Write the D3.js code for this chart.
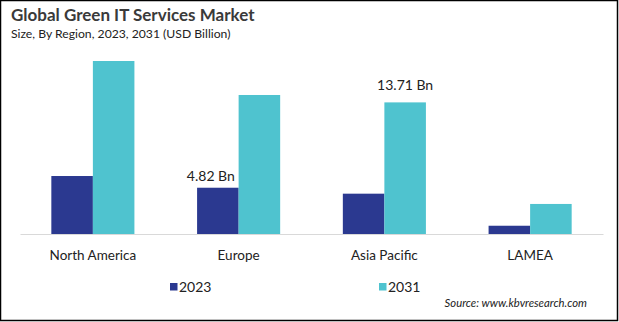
<!DOCTYPE html>
<meta charset="utf-8">
<title>Global Green IT Services Market</title>
<style type="text/css">
	body { margin: 0; background: #fff; }
	svg { display: block; font-family: Lato, "Noto Sans", sans-serif; }
</style>
<body>
<div id="chart"></div>
<script src="https://d3js.org/d3.v7.min.js"></script>
<script>

// chart data
var regions = ["North America", "Europe", "Asia Pacific", "LAMEA"];
var years = ["2023", "2031"];
var values2023 = [6.04, 4.82, 4.20, 0.86];
var values2031 = [18.02, 14.48, 13.71, 3.13];
// which bars carry a value label: [region index, year]
var labelled = [[1, "2023"], [2, "2031"]];

var width = 619, height = 322;
var colors = {"2023": "#2b3990", "2031": "#4fc3cf"};

var svg = d3.select("#chart").append("svg")
	.attr("width", width)
	.attr("height", height);

// outer frame
svg.append("rect")
	.attr("x", 0.5).attr("y", 0.5)
	.attr("width", width - 2).attr("height", height - 2)
	.style("fill", "none").style("stroke", "#000").style("stroke-width", 1.5);

// title and subtitle
svg.append("text").attr("x", 11).attr("y", 21)
	.text("Global Green IT Services Market")
	.style("font-size", "17px").style("font-weight", "bold").style("fill", "#3a3a3a");
svg.append("text").attr("x", 11).attr("y", 38)
	.text("Size, By Region, 2023, 2031 (USD Billion)")
	.style("font-size", "12.2px").style("fill", "#222");

var table = regions.map(function (r, i) {
	return {region: r, "2023": values2023[i], "2031": values2031[i]};
});

var x0 = d3.scaleBand().domain(regions).range([20, 603]).paddingInner(0).paddingOuter(0);
var barPad = 0.43;
var x1 = d3.scaleBand().domain(years)
	.range([x0.bandwidth() * barPad / 2, x0.bandwidth() * (1 - barPad / 2)]);
var y = d3.scaleLinear().domain([0, 20]).range([234, 42]);

var groups = svg.selectAll(".grp")
	.data(table)
	.enter().append("g")
	.attr("class", "grp")
	.attr("transform", function (d) { return "translate(" + x0(d.region) + ",0)"; });

groups.selectAll("rect")
	.data(function (d) { return years.map(function (k) { return {key: k, val: d[k]}; }); })
	.enter().append("rect")
	.attr("x", function (d) { return x1(d.key); })
	.attr("width", x1.bandwidth())
	.attr("y", function (d) { return y(d.val); })
	.attr("height", function (d) { return y(0) - y(d.val); })
	.style("fill", function (d) { return colors[d.key]; });

// value labels
svg.selectAll(".vlab")
	.data(labelled)
	.enter().append("text")
	.attr("class", "vlab")
	.attr("x", function (d) { return x0(regions[d[0]]) + x1(d[1]) + x1.bandwidth() / 2 + (d[1] === "2023" ? -7 : 0); })
	.attr("y", function (d) {
		var v = d[1] === "2023" ? values2023[d[0]] : values2031[d[0]];
		return y(v) - (d[1] === "2023" ? 7 : 12);
	})
	.style("text-anchor", "middle")
	.style("font-size", "14px").style("fill", "#222")
	.text(function (d) {
		var v = d[1] === "2023" ? values2023[d[0]] : values2031[d[0]];
		return v.toFixed(2) + " Bn";
	});

// x axis
var xAxis = svg.append("g")
	.attr("transform", "translate(0," + y(0) + ")")
	.call(d3.axisBottom(x0).tickSize(0).tickPadding(16));
xAxis.select(".domain").attr("stroke", "#d9d9d9");
xAxis.selectAll("text")
	.style("font-family", "Lato, 'Noto Sans', sans-serif")
	.style("font-size", "13.5px").style("fill", "#222");

// legend
var legendX = {"2023": 170, "2031": 379};
years.forEach(function (k) {
	svg.append("rect").attr("x", legendX[k]).attr("y", 283)
		.attr("width", 7.5).attr("height", 7.5).style("fill", colors[k]);
	svg.append("text").attr("x", legendX[k] + 9).attr("y", 291.5)
		.text(k).style("font-size", "14px").style("fill", "#222");
});

// source
svg.append("text").attr("x", 587).attr("y", 307)
	.style("text-anchor", "end")
	.style("font-size", "11.3px").style("font-style", "italic").style("fill", "#222")
	.text("Source: www.kbvresearch.com");

</script>
</body>
